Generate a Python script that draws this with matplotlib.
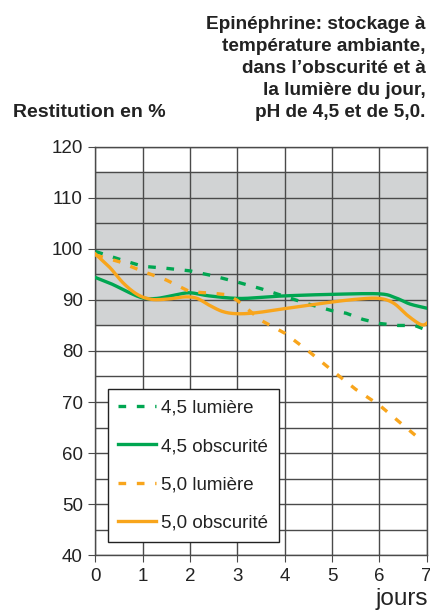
import numpy as np
import matplotlib
matplotlib.use("Agg")
import matplotlib.pyplot as plt
from matplotlib.ticker import MultipleLocator

plt.rcParams['font.family'] = ['Liberation Sans', 'DejaVu Sans']

# données (jours, restitution en %)
jours_45_lum = [0, 0.5, 1, 1.5, 2, 2.5, 3, 3.5, 4, 4.5, 5, 5.3, 5.65, 6, 6.4, 6.75, 7]
val_45_lum = [99.5, 98.0, 96.6, 96.2, 95.7, 94.7, 93.5, 92.2, 90.7, 89.2, 87.9, 87.4,
              86.2, 85.4, 85.0, 85.0, 84.1]

jours_45_obs = [0, 0.35, 0.7, 1.0, 1.3, 1.7, 2.0, 2.4, 3.0, 3.5, 4.0, 5.0, 6.0,
                6.35, 6.65, 7.0]
val_45_obs = [94.4, 93.1, 91.5, 90.4, 90.3, 91.0, 91.4, 90.8, 90.3, 90.5, 90.8,
              91.1, 91.2, 90.4, 89.2, 88.4]

jours_50_lum = [0, 0.5, 1, 1.5, 2, 2.5, 2.8, 3, 3.5, 4, 4.5, 5, 5.5, 6, 6.5, 6.85]
val_50_lum = [98.8, 97.5, 95.6, 93.9, 91.6, 91.3, 91.0, 89.9, 86.0, 83.5, 80.0,
              76.2, 72.5, 69.4, 65.5, 62.8]

jours_50_obs = [0, 0.3, 0.6, 0.9, 1.2, 1.55, 1.9, 2.15, 2.42, 2.7, 3.0, 3.4, 4.0,
                5.0, 5.6, 6.0, 6.3, 6.58, 6.83, 6.94, 7.0]
val_50_obs = [99.0, 96.4, 93.2, 91.0, 90.1, 90.2, 90.6, 90.3, 88.9, 87.7, 87.3,
              87.5, 88.3, 89.6, 90.2, 90.3, 89.4, 87.1, 85.4, 85.1, 85.4]

labels = ["4,5 lumière", "4,5 obscurité", "5,0 lumière", "5,0 obscurité"]

titre = ["Epinéphrine: stockage à", "température ambiante,",
         "dans l’obscurité et à", "la lumière du jour,", "pH de 4,5 et de 5,0."]

VERT = '#00a651'
ORANGE = '#f8a51c'
GRIS = '#d1d3d4'
TRAIT = '#4a4a4a'
TEXTE = '#222222'


# lissage Catmull-Rom pour dessiner des courbes douces
def lisser(x, y, n=12):
    x = np.asarray(x, float)
    y = np.asarray(y, float)
    px = np.concatenate([[2 * x[0] - x[1]], x, [2 * x[-1] - x[-2]]])
    py = np.concatenate([[2 * y[0] - y[1]], y, [2 * y[-1] - y[-2]]])
    xs, ys = [], []
    for i in range(1, len(px) - 2):
        t = np.linspace(0, 1, n, endpoint=False)
        for p, out in ((px, xs), (py, ys)):
            p0, p1, p2, p3 = p[i - 1], p[i], p[i + 1], p[i + 2]
            out.extend(0.5 * (2 * p1 + (-p0 + p2) * t
                              + (2 * p0 - 5 * p1 + 4 * p2 - p3) * t ** 2
                              + (-p0 + 3 * p1 - 3 * p2 + p3) * t ** 3))
    xs.append(x[-1])
    ys.append(y[-1])
    return xs, ys


fig = plt.figure(figsize=(4.3, 6.12), dpi=100)
ax = fig.add_axes([0.222, 0.093, 0.770, 0.667])

ax.set_xlim(0, 7)
ax.set_ylim(40, 120)
ax.axhspan(85, 115, color=GRIS, zorder=0)

ax.xaxis.set_major_locator(MultipleLocator(1))
ax.yaxis.set_major_locator(MultipleLocator(10))
ax.yaxis.set_minor_locator(MultipleLocator(5))
ax.grid(True, which='both', color=TRAIT, lw=1.0, zorder=1)
ax.set_axisbelow(True)
for s in ax.spines.values():
    s.set_color(TRAIT)
    s.set_linewidth(1.0)
ax.tick_params(which='major', direction='out', length=5, color=TRAIT,
               labelsize=13.5, pad=4, labelcolor=TEXTE)
ax.tick_params(which='minor', length=0)

ax.plot(jours_45_lum, val_45_lum, color=VERT, lw=2.4,
        dashes=(2.3, 3.2), label=labels[0], zorder=3)
x, y = lisser(jours_45_obs, val_45_obs)
ax.plot(x, y, color=VERT, lw=2.4, label=labels[1], zorder=3)
ax.plot(jours_50_lum, val_50_lum, color=ORANGE, lw=2.4,
        dashes=(2.3, 3.2), label=labels[2], zorder=3)
x, y = lisser(jours_50_obs, val_50_obs)
ax.plot(x, y, color=ORANGE, lw=2.4, label=labels[3], zorder=3)

leg = ax.legend(loc='lower left', bbox_to_anchor=(0.038, 0.033),
                fontsize=13.5, frameon=True, fancybox=False,
                edgecolor=TEXTE, framealpha=1, handlelength=2.0,
                handletextpad=0.3, labelspacing=1.12, borderpad=0.55,
                borderaxespad=0)
leg.get_frame().set_linewidth(1.0)
for t in leg.get_texts():
    t.set_color(TEXTE)

# titre, ligne par ligne, aligné à droite
for i, ligne in enumerate(titre):
    fig.text(0.99, 1 - (29.3 + 21.85 * i) / 612, ligne, ha='right',
             va='baseline', fontsize=13.7, fontweight='bold', color=TEXTE)
fig.text(0.03, 1 - 116.7 / 612, "Restitution en %", ha='left', va='baseline',
         fontsize=14, fontweight='bold', color=TEXTE)
fig.text(0.995, 1 - 605 / 612, "jours", ha='right', va='baseline',
         fontsize=17.5, color=TEXTE)

fig.savefig("out.png", dpi=100)
